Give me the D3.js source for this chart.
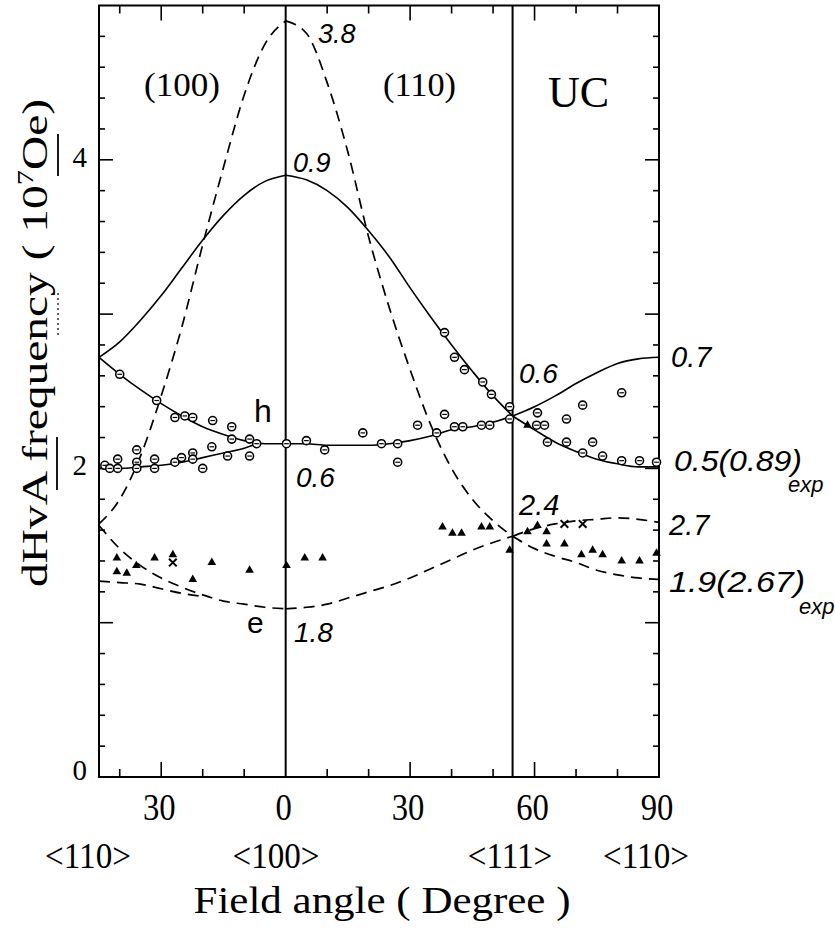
<!DOCTYPE html>
<html><head><meta charset="utf-8">
<script src="https://cdn.jsdelivr.net/npm/d3@7"></script>
<style>body{margin:0;background:#fff}svg{display:block}</style>
</head><body>
<svg id="c" width="835" height="934"></svg>
<script>
// ---------- DATA ----------
// Solid theoretical curves (angle in degrees, frequency in 10^7 Oe)
const s100UpperAngle = [-45,-40,-35,-30,-25,-20,-15,-10,-5,0];
const s100UpperFreq  = [2.72,2.82,2.96,3.12,3.30,3.48,3.64,3.77,3.86,3.90];
const s110UpperAngle = [0,5,10,15,20,25,30,35,40,45,50,54.7];
const s110UpperFreq  = [3.90,3.87,3.80,3.69,3.54,3.37,3.17,2.98,2.80,2.63,2.47,2.34];
const sUCUpperAngle  = [54.7,60,65,70,75,80,85,90];
const sUCUpperFreq   = [2.34,2.40,2.47,2.55,2.62,2.68,2.71,2.72];
const s100hAAngle    = [-45,-40,-35,-30,-25,-20,-15,-10,-5,0];
const s100hAFreq     = [2.72,2.61,2.51,2.42,2.34,2.27,2.22,2.18,2.16,2.16];
const s100hBAngle    = [-45,-40,-35,-30,-25,-20,-15,-10,-7];
const s100hBFreq     = [2.00,2.00,2.01,2.02,2.04,2.07,2.10,2.13,2.16];
const s110hAngle     = [0,5,10,15,20,25,30,35,40,45,50,54.7];
const s110hFreq      = [2.16,2.16,2.15,2.15,2.15,2.16,2.18,2.21,2.25,2.27,2.30,2.34];
const sUChAngle      = [54.7,60,65,70,75,80,85,90];
const sUChFreq       = [2.34,2.25,2.17,2.11,2.06,2.03,2.01,2.01];
// Dashed theoretical curves
const d100PeakAngle  = [-45,-40,-35,-30,-25,-20,-15,-10,-5,0];
const d100PeakFreq   = [1.64,1.80,2.08,2.47,2.92,3.45,3.95,4.42,4.75,4.90];
const d110PeakAngle  = [0,5,10,15,20,25,30,35,40,45,50,54.7];
const d110PeakFreq   = [4.90,4.82,4.50,4.05,3.50,3.04,2.64,2.28,2.00,1.80,1.66,1.56];
const d100eAAngle    = [-45,-40,-35,-30,-25,-20,-15,-10,-5,0];
const d100eAFreq     = [1.63,1.48,1.37,1.29,1.23,1.18,1.14,1.12,1.10,1.09];
const d100eBAngle    = [-45,-40,-35,-30,-25,-20];
const d100eBFreq     = [1.27,1.26,1.25,1.22,1.19,1.17];
const d110eAngle     = [0,5,10,15,20,25,30,35,40,45,50,54.7];
const d110eFreq      = [1.09,1.10,1.12,1.16,1.20,1.24,1.29,1.35,1.41,1.47,1.52,1.56];
const dUCUpperAngle  = [54.7,60,65,70,75,80,85,90];
const dUCUpperFreq   = [1.56,1.61,1.64,1.66,1.67,1.68,1.67,1.65];
const dUCLowerAngle  = [54.7,60,65,70,75,80,85,90];
const dUCLowerFreq   = [1.56,1.48,1.43,1.39,1.34,1.31,1.29,1.28];
// Experimental points: open circles (hole), triangles (electron), crosses
const circleAngle = [-43.6,-42.4,-40.5,-40.5,-40.0,-35.9,-35.9,-35.9,-31.6,-31.6,-31.1,-26.7,-26.7,-25.1,-24.3,-22.4,-22.4,-22.4,-20.0,-17.8,-17.6,-14.0,-13.0,-13.0,-8.7,-8.7,-7.0,0.2,
  5.0,9.4,18.6,23.1,27.0,27.0,31.8,36.4,38.3,40.7,42.7,47.2,49.2,38.3,40.7,43.1,47.5,49.6,54.0,54.0,
  60.7,60.5,62.4,67.7,71.6,81.0,63.1,67.7,74.0,71.6,76.4,81.0,85.3,89.4];
const circleFreq  = [2.02,2.00,2.06,2.00,2.61,2.12,2.04,2.00,2.06,2.00,2.44,2.33,2.04,2.07,2.34,2.33,2.10,2.06,2.00,2.14,2.31,2.08,2.27,2.19,2.19,2.08,2.16,2.16,
  2.18,2.12,2.23,2.16,2.16,2.04,2.28,2.23,2.35,2.27,2.27,2.28,2.28,2.88,2.72,2.64,2.56,2.48,2.40,2.32,
  2.36,2.28,2.28,2.32,2.41,2.49,2.17,2.17,2.17,2.10,2.08,2.05,2.05,2.04];
const triAngle = [-40.7,-40.7,-38.3,-36.0,-31.6,-27.2,-17.8,-22.4,-8.7,0.2,4.6,8.9,
  37.8,40.2,42.4,47.2,49.2,54.0,58.3,60.7,62.9,62.9,67.2,71.3,74.0,76.4,81.0,85.3,89.4,58.3];
const triFreq  = [1.42,1.33,1.32,1.37,1.42,1.44,1.39,1.28,1.34,1.37,1.42,1.42,
  1.62,1.58,1.58,1.62,1.62,1.47,1.59,1.63,1.59,1.51,1.51,1.44,1.47,1.44,1.40,1.40,1.45,2.28];
const crossAngle = [-27.2,67.2,71.6];
const crossFreq  = [1.39,1.64,1.64];
// Axis tick labels
const xTickValues = [-30,0,30,60,90];
const xTickLabels = ["30","0","30","60","90"];
const dirAngles = [-45,0,54.7,90];
const dirLabels = ["<110>","<100>","<111>","<110>"];
const yTickValues = [0,2,4];
const yTickLabels = ["0","2","4"];

// ---------- CHART ----------
const svg = d3.select("#c");
const x = d3.scaleLinear().domain([-45,90]).range([99,659]);
const y = d3.scaleLinear().domain([0,5]).range([777,5.5]);
const zip = (a,b)=>a.map((v,i)=>[v,b[i]]);
const line = d3.line().x(d=>x(d[0])).y(d=>y(d[1])).curve(d3.curveMonotoneX);
const serif = "'Liberation Serif','DejaVu Serif',serif";
const hand = "'Liberation Sans','DejaVu Sans',sans-serif";

// frame
svg.append("rect").attr("x",x(-45)).attr("y",y(5)).attr("width",x(90)-x(-45)).attr("height",y(0)-y(5))
  .attr("fill","none").attr("stroke","#000").attr("stroke-width",2);
[0,54.7].forEach(a=>svg.append("line").attr("x1",x(a)).attr("x2",x(a)).attr("y1",y(5)).attr("y2",y(0))
  .attr("stroke","#000").attr("stroke-width",2));

// y ticks (inside, both sides)
d3.range(1,25).map(i=>i*0.2).forEach(v=>{
  const major = Math.abs(v-Math.round(v))<1e-6;
  const L = major?14:6;
  svg.append("line").attr("x1",x(-45)).attr("x2",x(-45)+L).attr("y1",y(v)).attr("y2",y(v)).attr("stroke","#000").attr("stroke-width",1.6);
  svg.append("line").attr("x1",x(90)).attr("x2",x(90)-L).attr("y1",y(v)).attr("y2",y(v)).attr("stroke","#000").attr("stroke-width",1.6);
});
// x ticks (inside, top and bottom)
d3.range(-40,90,10).forEach(a=>{
  if(a===0) return;
  const major = (a%30===0);
  const L = major?15:8;
  svg.append("line").attr("x1",x(a)).attr("x2",x(a)).attr("y1",y(0)).attr("y2",y(0)-L).attr("stroke","#000").attr("stroke-width",1.6);
  svg.append("line").attr("x1",x(a)).attr("x2",x(a)).attr("y1",y(5)).attr("y2",y(5)+L).attr("stroke","#000").attr("stroke-width",1.6);
});

// curves
const solid = [[s100UpperAngle,s100UpperFreq],[s110UpperAngle,s110UpperFreq],[sUCUpperAngle,sUCUpperFreq],
  [s100hAAngle,s100hAFreq],[s100hBAngle,s100hBFreq],[s110hAngle,s110hFreq],[sUChAngle,sUChFreq]];
solid.forEach(([a,f])=>svg.append("path").attr("d",line(zip(a,f))).attr("fill","none").attr("stroke","#000").attr("stroke-width",1.6));
const dashed = [[d100PeakAngle,d100PeakFreq],[d110PeakAngle,d110PeakFreq],[d100eAAngle,d100eAFreq],[d100eBAngle,d100eBFreq],
  [d110eAngle,d110eFreq],[dUCUpperAngle,dUCUpperFreq],[dUCLowerAngle,dUCLowerFreq]];
dashed.forEach(([a,f])=>svg.append("path").attr("d",line(zip(a,f))).attr("fill","none").attr("stroke","#000")
  .attr("stroke-width",1.7).attr("stroke-dasharray","11,7"));

// points
zip(circleAngle,circleFreq).forEach(([a,f])=>{
  svg.append("circle").attr("cx",x(a)).attr("cy",y(f)).attr("r",4).attr("fill","#fff").attr("stroke","#000").attr("stroke-width",1.6);
  svg.append("line").attr("x1",x(a)-2.3).attr("x2",x(a)+2.3).attr("y1",y(f)).attr("y2",y(f)).attr("stroke","#000").attr("stroke-width",1.2);
});
const tri = d3.symbol().type(d3.symbolTriangle).size(32);
zip(triAngle,triFreq).forEach(([a,f])=>svg.append("path").attr("d",tri()).attr("transform",`translate(${x(a)},${y(f)})`).attr("fill","#000"));
const cross = d3.symbol().type(d3.symbolTimes).size(40);
zip(crossAngle,crossFreq).forEach(([a,f])=>svg.append("path").attr("d",cross()).attr("transform",`translate(${x(a)},${y(f)})`).attr("fill","none").attr("stroke","#000").attr("stroke-width",2));

// axis labels
xTickValues.forEach((v,i)=>svg.append("text").attr("transform",`translate(${x(v)-2},820) scale(0.86,1)`).attr("text-anchor","middle")
  .attr("font-family",serif).attr("font-size",38).text(xTickLabels[i]));
const dirCenter = [88,276,510,646];
dirLabels.forEach((t,i)=>svg.append("text").attr("transform",`translate(${dirCenter[i]},868) scale(0.92,1)`).attr("text-anchor","middle")
  .attr("font-family",serif).attr("font-size",36).text(t));
svg.append("text").attr("x",382).attr("y",913).attr("text-anchor","middle").attr("font-family",serif).attr("font-size",38)
  .attr("textLength",377).attr("lengthAdjust","spacingAndGlyphs").text("Field angle ( Degree )");
yTickValues.forEach((v,i)=>svg.append("text").attr("x",87).attr("y",y(v)+(v===0?3:7)).attr("text-anchor","end")
  .attr("font-family",serif).attr("font-size",29).text(yTickLabels[i]));
const yt2 = svg.append("text").attr("transform","translate(47,343) rotate(-90)").attr("text-anchor","middle")
  .attr("font-family",serif).attr("font-size",36).attr("textLength",488).attr("lengthAdjust","spacingAndGlyphs");
yt2.append("tspan").text("dHvA frequency ( 10");
yt2.append("tspan").attr("font-size",23).attr("dy",-14).text("7");
yt2.append("tspan").attr("dy",14).text("Oe)");
// underline fragments beside the axis title
svg.append("line").attr("x1",58).attr("x2",58).attr("y1",134).attr("y2",176).attr("stroke","#000").attr("stroke-width",1.8);
svg.append("line").attr("x1",58).attr("x2",58).attr("y1",293).attr("y2",337).attr("stroke","#000").attr("stroke-width",1.2).attr("stroke-dasharray","2,3");
svg.append("line").attr("x1",57).attr("x2",57).attr("y1",437).attr("y2",490).attr("stroke","#000").attr("stroke-width",1.8);

// region labels
const lab = (t,xx,yy,sz,fam,style,len)=>{const s=svg.append("text").attr("x",xx).attr("y",yy).attr("font-family",fam)
  .attr("font-size",sz).attr("font-style",style||"normal").text(t);
  if(len) s.attr("textLength",len).attr("lengthAdjust","spacingAndGlyphs"); return s;};
lab("(100)",144,96,34,serif,null,76);
lab("(110)",383,96,34,serif,null,73);
lab("UC",548,107,44,serif);
lab("h",254,422,32,hand);
lab("e",247,633,30,hand);
lab("3.8",318,43,27,hand,"italic");
lab("0.9",293,172,27,hand,"italic");
lab("0.6",519,383,28,hand,"italic");
lab("0.7",671,367,29,hand,"italic");
lab("0.6",296,487,28,hand,"italic");
lab("1.8",294,642,28,hand,"italic");
lab("0.5(0.89)",674,471,29,hand,"italic",128);
lab("exp",788,492,22,hand,"italic");
lab("2.4",519,515,29,hand,"italic");
lab("2.7",669,535,29,hand,"italic");
lab("1.9(2.67)",669,592,29,hand,"italic",136);
lab("exp",799,614,22,hand,"italic");
</script>
</body></html>
